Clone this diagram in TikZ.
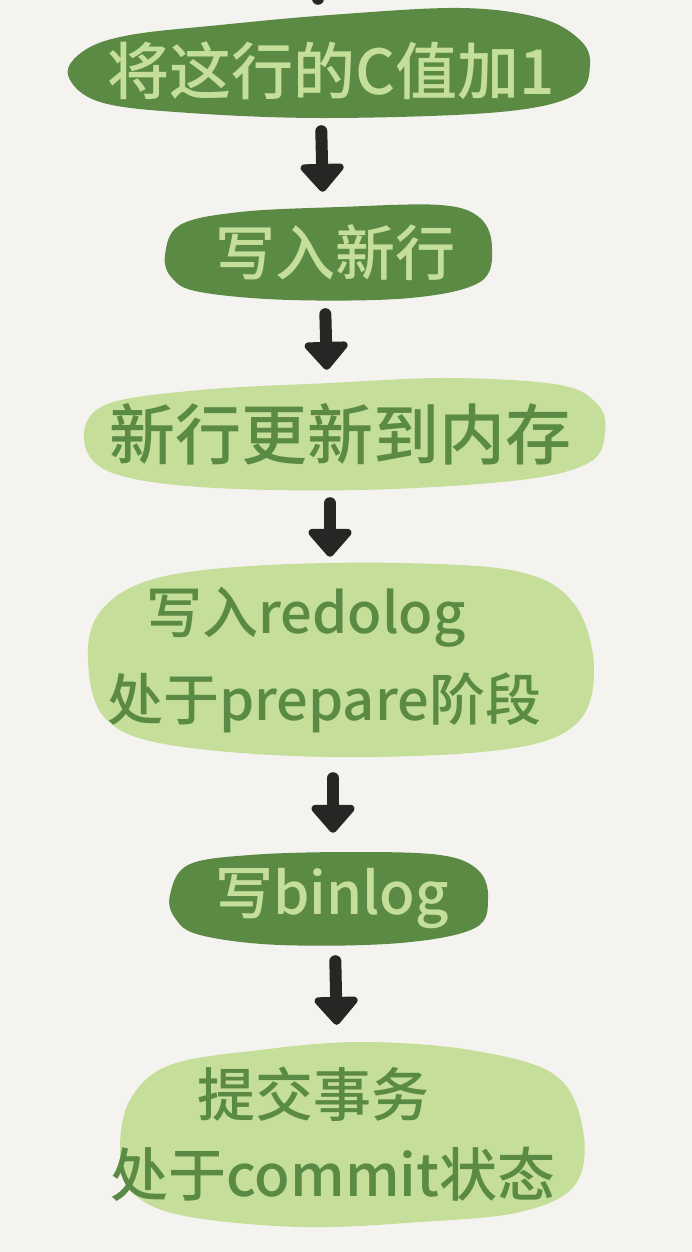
\documentclass[tikz,border=0pt]{standalone}
\usepackage{fontspec}
\usepackage{graphicx}
\newfontfamily\cjk{Noto Sans CJK SC Medium}
\usetikzlibrary{arrows.meta}
\definecolor{bg}{HTML}{F5F3EF}
\definecolor{dg}{HTML}{5A8A44}
\definecolor{lg}{HTML}{C5DF9B}
\definecolor{ink}{HTML}{262624}
\begin{document}
\begin{tikzpicture}[x=1pt,y=-1pt,
  blobdark/.style={fill=dg},
  bloblight/.style={fill=lg},
  blobbox/.style={inner sep=0pt, align=center},
  ondark/.style={blobbox, text=lg},
  onlight/.style={blobbox, text=dg},
  fs/.style={font=\cjk\fontsize{#1}{#1}\selectfont},
  stem/.style={draw=ink, line width=12pt, line cap=round},
  flow/.style={stem, -{Triangle[width=50pt,length=30pt,round]}}
]
\fill[bg] (0,0) rectangle (692,1252);
\useasboundingbox (0,0) rectangle (692,1252);

% blobs
\fill[blobdark] plot[smooth cycle, tension=0.6] coordinates {(68,75) (85,50) (130,35) (220,25) (330,15) (460,8) (540,18) (580,40) (590,65) (575,95) (500,112) (330,118) (190,113) (100,102)};
\fill[blobdark] plot[smooth cycle, tension=0.6] coordinates {(165,255) (180,225) (240,212) (340,207) (440,205) (480,218) (492,248) (480,282) (410,298) (290,300) (200,292) (172,278)};
\fill[bloblight] plot[smooth cycle, tension=0.6] coordinates {(84,440) (105,405) (200,390) (330,383) (450,378) (560,385) (598,405) (605,432) (590,462) (520,480) (360,490) (200,487) (110,472)};
\fill[bloblight] plot[smooth cycle, tension=0.6] coordinates {(88,660) (100,612) (150,580) (250,566) (400,563) (520,572) (575,605) (594,670) (575,725) (500,750) (330,757) (170,745) (105,718)};
\fill[blobdark] plot[smooth cycle, tension=0.6] coordinates {(170,895) (188,865) (250,855) (350,852) (440,855) (478,870) (488,898) (475,928) (400,943) (280,945) (200,935) (175,918)};
\fill[bloblight] plot[smooth cycle, tension=0.6] coordinates {(120,1150) (130,1100) (170,1065) (260,1050) (360,1042) (470,1050) (555,1075) (583,1130) (575,1185) (520,1212) (420,1222) (300,1227) (180,1215) (130,1190)};

% texts (one node per blob)
\node[ondark, fs=62, minimum height=110pt, text height=68pt] (b1) at (331,63) {将这行的C值加1};
\node[ondark, fs=60, minimum height=95pt] (b3) at (335,252.5) {写入新行};
\node[onlight, fs=66, minimum height=112pt] (b5) at (340,434) {新行更新到内存};
\node[onlight, font=\cjk\fontsize{56}{87}\selectfont, minimum height=194pt] (b7) at (324,660) {写入redolog\hspace*{36pt}\\处于prepare阶段};
\node[ondark, fs=58, minimum height=93pt] (b9) at (332,898.5) {写binlog};
\node[onlight, font=\cjk\fontsize{58}{80}\selectfont, minimum height=185pt] (b11) at (333,1134.5) {提交事务\hspace*{40pt}\\处于commit状态};

% connectors
\coordinate (top) at (318,-20);
\draw[stem, shorten >=9pt] (top) -- ([xshift=-13pt]b1.north);
\draw[flow, shorten <=13pt, shorten >=13pt] ([xshift=-10pt]b1.south) -- ([xshift=-12pt]b3.north);
\draw[flow, shorten <=14pt, shorten >=8pt] ([xshift=-10pt]b3.south) -- ([xshift=-13pt]b5.north);
\draw[flow, shorten <=13pt, shorten >=6pt] ([xshift=-10pt]b5.south) -- ([xshift=6pt]b7.north);
\draw[flow, shorten <=21pt, shorten >=19pt] ([xshift=9pt]b7.south) -- ([xshift=1pt]b9.north);
\draw[flow, shorten <=16pt, shorten >=17pt] ([xshift=3pt]b9.south) -- ([xshift=4pt]b11.north);
\end{tikzpicture}
\end{document}
